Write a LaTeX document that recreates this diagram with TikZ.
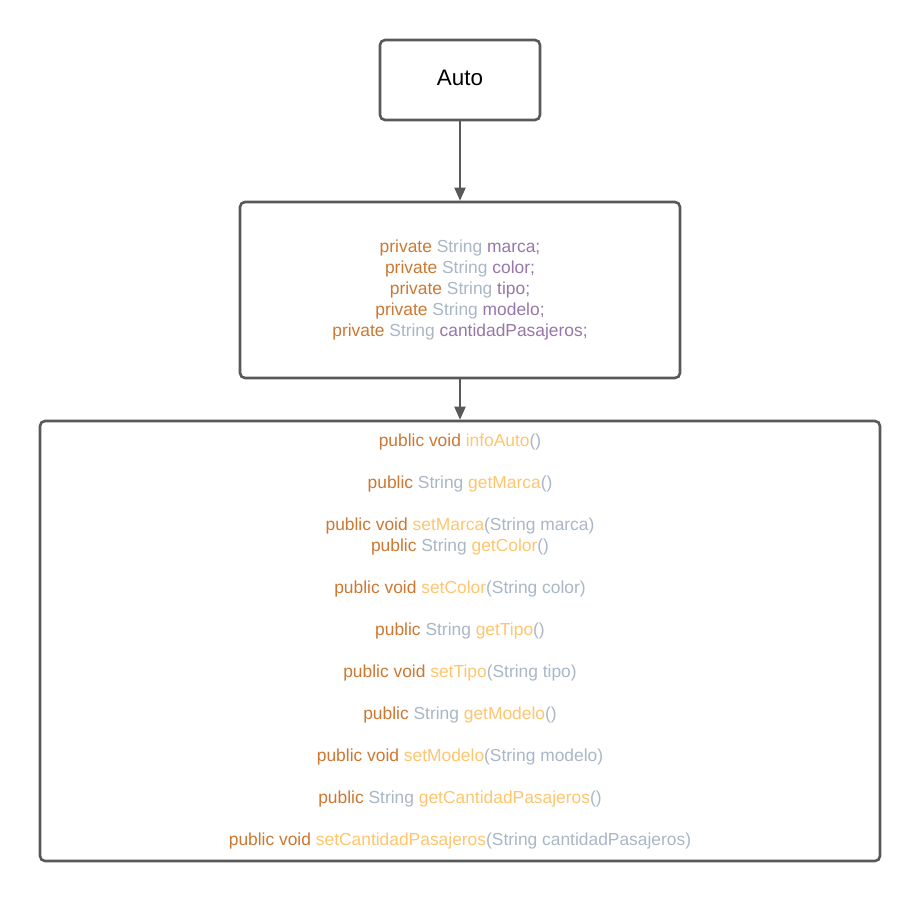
\documentclass[tikz,border=0pt]{standalone}
\usepackage{fontspec}
\setmainfont{Liberation Sans}
\usetikzlibrary{arrows.meta}
\definecolor{kw}{HTML}{CC7832}
\definecolor{ty}{HTML}{A9B7C6}
\definecolor{fld}{HTML}{9876AA}
\definecolor{mth}{HTML}{FFC66D}
\definecolor{edge}{HTML}{595959}
\newcommand{\K}[1]{\textcolor{kw}{#1}}
\newcommand{\T}[1]{\textcolor{ty}{#1}}
\newcommand{\F}[1]{\textcolor{fld}{#1}}
\newcommand{\M}[1]{\textcolor{mth}{#1}}
\begin{document}
\begin{tikzpicture}[x=1pt,y=-1pt,
  umlbox/.style={draw=edge, line width=2.6pt, rounded corners=5pt, fill=white, inner sep=0pt, align=center,
    font=\fontsize{17.4}{21}\selectfont},
  conn/.style={draw=edge, line width=2pt, -{Triangle[length=13pt,width=11pt]}}]
\useasboundingbox (0,0) rectangle (920,900);
\node[umlbox, minimum width=160pt, minimum height=80pt, font=\fontsize{22.4}{26}\selectfont] (auto) at (460,80) {\raisebox{5pt}{Auto}};
\node[umlbox, minimum width=440pt, minimum height=176pt] (attr) at (460,290) {%
\K{private} \T{String} \F{marca;}\\
\K{private} \T{String} \F{color;}\\
\K{private} \T{String} \F{tipo;}\\
\K{private} \T{String} \F{modelo;}\\
\K{private} \T{String} \F{cantidadPasajeros;}};
\node[umlbox, minimum width=840pt, minimum height=440pt] (meth) at (460,641) {%
\K{public void} \M{infoAuto}\T{()}\\[21pt]
\K{public} \T{String} \M{getMarca}\T{()}\\[21pt]
\K{public void} \M{setMarca}\T{(String marca)}\\
\K{public} \T{String} \M{getColor}\T{()}\\[21pt]
\K{public void} \M{setColor}\T{(String color)}\\[21pt]
\K{public} \T{String} \M{getTipo}\T{()}\\[21pt]
\K{public void} \M{setTipo}\T{(String tipo)}\\[21pt]
\K{public} \T{String} \M{getModelo}\T{()}\\[21pt]
\K{public void} \M{setModelo}\T{(String modelo)}\\[21pt]
\K{public} \T{String} \M{getCantidadPasajeros}\T{()}\\[21pt]
\K{public void} \M{setCantidadPasajeros}\T{(String cantidadPasajeros)}};
\draw[conn] (auto.south) -- (attr.north);
\draw[conn] (attr.south) -- (meth.north);
\end{tikzpicture}
\end{document}
